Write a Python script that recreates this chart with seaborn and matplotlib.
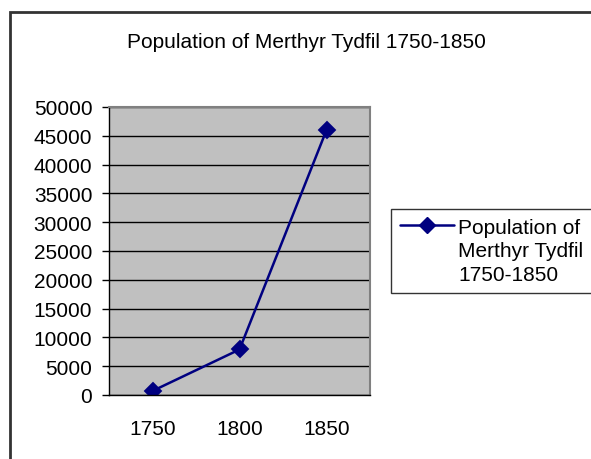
import numpy as np
import pandas as pd
import matplotlib
matplotlib.use("Agg")
import matplotlib.pyplot as plt
import seaborn as sns
from matplotlib.patches import Rectangle
from matplotlib.lines import Line2D

# data
years = ["1750", "1800", "1850"]
population = [700, 7900, 46000]
legend_lines = ["Population of", "Merthyr Tydfil", "1750-1850"]
chart_title = "Population of Merthyr Tydfil 1750-1850"

y_ticks = list(range(0, 50001, 5000))

sns.set_style("white")
plt.rcParams["font.family"] = ["Liberation Sans", "DejaVu Sans"]
plt.rcParams["text.color"] = "black"
plt.rcParams["xtick.color"] = "black"
plt.rcParams["ytick.color"] = "black"

df = pd.DataFrame({"year": years, "population": population})

W, H = 591, 460
fig = plt.figure(figsize=(W / 100, H / 100), dpi=100)
ax = fig.add_axes([109 / W, (H - 396) / H, 261 / W, 288 / H])
ax.set_facecolor("#C0C0C0")

sns.pointplot(data=df, x="year", y="population", color="#000080",
              markers="D", markersize=8.5, linewidth=1.8, ax=ax)

ax.set_xlim(-0.5, 2.5)
ax.set_ylim(0, 50000)
ax.set_yticks(y_ticks)
ax.set_yticklabels([str(v) for v in y_ticks], fontsize=15, color="black")
ax.set_xticks(range(len(years)))
ax.set_xticklabels(years, fontsize=15, color="black")
ax.set_xticks([-0.5, 0.5, 1.5, 2.5], minor=True)
ax.tick_params(axis="x", which="major", length=0, pad=17)
ax.tick_params(axis="x", which="minor", length=5, width=1, color="black", direction="out")
ax.tick_params(axis="y", length=5, width=1, color="black", direction="out", left=True, pad=7)
ax.set_xlabel("")
ax.set_ylabel("")

ax.grid(axis="y", color="black", linewidth=1)
ax.set_axisbelow(True)
for side in ["top", "right"]:
    ax.spines[side].set_color("#808080")
    ax.spines[side].set_linewidth(1.5)
for side in ["left", "bottom"]:
    ax.spines[side].set_color("black")
    ax.spines[side].set_linewidth(1)
    ax.spines[side].set_visible(True)
ax.spines["top"].set_visible(True)
ax.spines["right"].set_visible(True)

# legend: handle sits on the first line of the wrapped label
handles = [Line2D([], [], color="#000080", marker="D", markersize=8.5, linewidth=1.8)]
handles += [Line2D([], [], linestyle="none") for _ in legend_lines[1:]]
leg = fig.legend(handles, legend_lines, loc="upper left",
                 bbox_to_anchor=(391 / W, 1 - 210 / H), fontsize=15,
                 frameon=True, fancybox=False, edgecolor="black",
                 handlelength=2.6, borderpad=0.42, handletextpad=0.2,
                 labelspacing=0.22, borderaxespad=0)
leg.get_frame().set_linewidth(1)
for t in leg.get_texts():
    t.set_color("black")

fig.text(306 / W, 1 - 42 / H, chart_title, ha="center", va="center",
         fontsize=15, color="black")

# outer chart border (runs off the right and bottom edge)
fig.patches.append(Rectangle((10 / W, -0.05), 1.1, 1 - 13 / H + 0.05,
                             transform=fig.transFigure, fill=False,
                             edgecolor="#333333", linewidth=2))

fig.savefig("out.png", dpi=100)
